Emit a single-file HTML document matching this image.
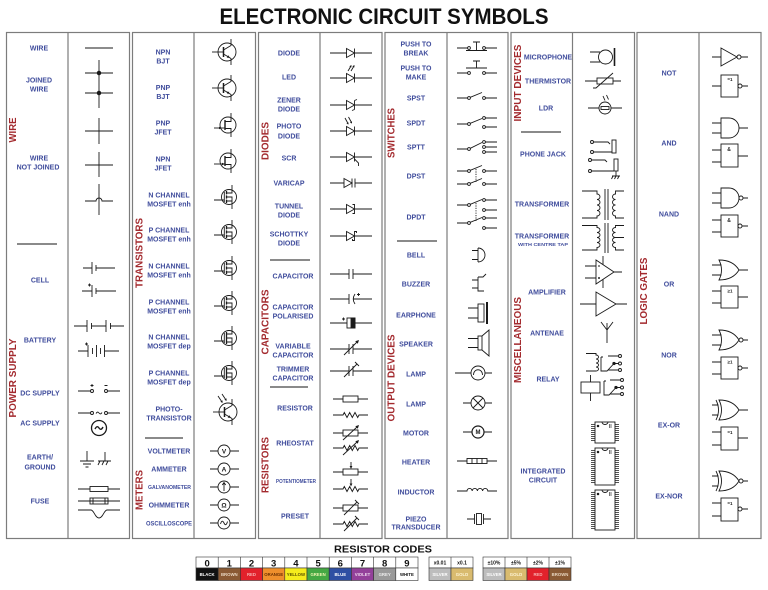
<!DOCTYPE html>
<html><head><meta charset="utf-8">
<style>
html,body{margin:0;padding:0;background:#fff;width:768px;height:590px;overflow:hidden}
svg{display:block}
.l{font-family:"Liberation Sans",sans-serif;font-weight:bold;font-size:7px;fill:#3f4c9c;text-anchor:middle}
.r{font-family:"Liberation Sans",sans-serif;font-weight:bold;font-size:10px;fill:#a32a2e;text-anchor:middle}
.t{font-family:"Liberation Sans",sans-serif;font-weight:bold;fill:#111;text-anchor:middle}
.c{font-family:"Liberation Sans",sans-serif;font-weight:bold;font-size:4.3px;text-anchor:middle}
</style></head><body>
<svg width="768" height="590" viewBox="0 0 768 590" xmlns="http://www.w3.org/2000/svg">
<defs>
<g id="npn"><circle r="9"/><path d="M-15,0H-3.5"/><path d="M-3.5,-5V5" stroke-width="1.5"/><path d="M-3.5,-2L4,-6.5V-13"/><path d="M-3.5,2L4,6.5V13"/><path d="M3,5.9L-0.3,5.6L1.2,3.2Z" fill="#1a1a1a" stroke="none"/></g>
<g id="pnp"><circle r="9"/><path d="M-15,0H-3.5"/><path d="M-3.5,-5V5" stroke-width="1.5"/><path d="M-3.5,-2L4,-6.5V-13"/><path d="M-3.5,2L4,6.5V13"/><path d="M-0.9,3.6L1,6.3L2.4,3.9Z" fill="#1a1a1a" stroke="none"/></g>
<g id="jfet"><circle r="8"/><path d="M-14,3H-3"/><path d="M-3,-5V5" stroke-width="1.4"/><path d="M-3,-3.5H3V-12"/><path d="M-3,3.5H3V12"/></g>
<g id="mosb"><circle r="7.5"/><path d="M-15,3H-4.7M-4.7,-5V5"/><path d="M-2.5,-4H3V-12M-2.5,4H3V12M-2.5,0H3V4"/></g>
<g id="mose"><use href="#mosb"/><path d="M-2.5,-6V-2.6M-2.5,-1.6V1.6M-2.5,2.6V6" stroke-width="1.3"/></g>
<g id="mosd"><use href="#mosb"/><path d="M-2.5,-6V6" stroke-width="1.3"/></g>
<g id="dio"><path d="M-21,0H21"/><path d="M-4.5,-4.5V4.5L3.5,0Z" fill="#fff"/><path d="M3.5,-4.5V4.5"/></g>
<g id="cap"><path d="M-21,0H-2M2,0H21M-2,-5V5M2,-5V5"/></g>
<g id="res"><path d="M-18,0H17"/><rect x="-8" y="-3" width="15" height="6" fill="#fff"/></g>
<g id="zig"><path d="M-18,0H-8L-6.7,-2.5L-4,2.5L-1.3,-2.5L1.3,2.5L4,-2.5L6.7,2.5L8,0H17"/></g>
<g id="ahd"><path d="M0,0L-3,-1.3L-3,1.3Z" fill="#1a1a1a" stroke="none"/></g>
<g id="orb"><path d="M-2,-10Q3,0 -2,10Q12,10 18,0Q12,-10 -2,-10Z" fill="#fff"/></g>
</defs>

<!-- title -->
<text x="384" y="24" class="t" font-size="22" textLength="329" lengthAdjust="spacingAndGlyphs">ELECTRONIC CIRCUIT SYMBOLS</text>

<!-- panels -->
<g fill="#fff" stroke="#7c7c7c" stroke-width="1.2">
<rect x="6.5" y="32.5" width="123" height="506"/>
<rect x="132.5" y="32.5" width="123" height="506"/>
<rect x="258.5" y="32.5" width="123.5" height="506"/>
<rect x="385" y="32.5" width="123" height="506"/>
<rect x="511" y="32.5" width="123.5" height="506"/>
<rect x="637" y="32.5" width="124" height="506"/>
<path d="M68,32.5V538.5M194,32.5V538.5M320,32.5V538.5M447,32.5V538.5M572.5,32.5V538.5M699,32.5V538.5" fill="none"/>
</g>

<!-- separators -->
<g stroke="#444" stroke-width="1.3">
<path d="M17,244H57M145,438H183M270,260H310M270,387H308M397,241H437M521,132H561"/>
</g>

<!-- red category labels -->
<text class="r" transform="translate(16,130) rotate(-90)" textLength="25" lengthAdjust="spacingAndGlyphs">WIRE</text>
<text class="r" transform="translate(16,378) rotate(-90)" textLength="79" lengthAdjust="spacingAndGlyphs">POWER SUPPLY</text>
<text class="r" transform="translate(142.6,253) rotate(-90)" textLength="70" lengthAdjust="spacingAndGlyphs">TRANSISTORS</text>
<text class="r" transform="translate(142.6,490) rotate(-90)" textLength="40" lengthAdjust="spacingAndGlyphs">METERS</text>
<text class="r" transform="translate(268.6,141) rotate(-90)" textLength="38" lengthAdjust="spacingAndGlyphs">DIODES</text>
<text class="r" transform="translate(268.6,322) rotate(-90)" textLength="65" lengthAdjust="spacingAndGlyphs">CAPACITORS</text>
<text class="r" transform="translate(268.6,465) rotate(-90)" textLength="56" lengthAdjust="spacingAndGlyphs">RESISTORS</text>
<text class="r" transform="translate(394.6,133) rotate(-90)" textLength="50" lengthAdjust="spacingAndGlyphs">SWITCHES</text>
<text class="r" transform="translate(394.6,378) rotate(-90)" textLength="87" lengthAdjust="spacingAndGlyphs">OUTPUT DEVICES</text>
<text class="r" transform="translate(521,83) rotate(-90)" textLength="77" lengthAdjust="spacingAndGlyphs">INPUT DEVICES</text>
<text class="r" transform="translate(521,340) rotate(-90)" textLength="86" lengthAdjust="spacingAndGlyphs">MISCELLANEOUS</text>
<text class="r" transform="translate(647,291) rotate(-90)" textLength="67" lengthAdjust="spacingAndGlyphs">LOGIC GATES</text>

<!-- labels col1 -->
<g class="l">
<text x="39" y="50.5">WIRE</text>
<text x="39" y="82.5">JOINED</text><text x="39" y="91.5">WIRE</text>
<text x="39" y="160.5">WIRE</text><text x="38" y="169.5">NOT JOINED</text>
<text x="40" y="282.5">CELL</text>
<text x="40" y="342.5">BATTERY</text>
<text x="40" y="395.5">DC SUPPLY</text>
<text x="40" y="425.5">AC SUPPLY</text>
<text x="40" y="459.5">EARTH/</text><text x="40" y="469.5">GROUND</text>
<text x="40" y="503.5">FUSE</text>
</g>
<!-- labels col2 -->
<g class="l">
<text x="163" y="54.5">NPN</text><text x="163" y="63.5">BJT</text>
<text x="163" y="90">PNP</text><text x="163" y="99">BJT</text>
<text x="163" y="125.5">PNP</text><text x="163" y="134.5">JFET</text>
<text x="163" y="161.5">NPN</text><text x="163" y="170.5">JFET</text>
<text x="169" y="197.5">N CHANNEL</text><text x="169" y="206.5">MOSFET enh</text>
<text x="169" y="232.5">P CHANNEL</text><text x="169" y="241.5">MOSFET enh</text>
<text x="169" y="268.5">N CHANNEL</text><text x="169" y="277.5">MOSFET enh</text>
<text x="169" y="304.5">P CHANNEL</text><text x="169" y="313.5">MOSFET enh</text>
<text x="169" y="339.5">N CHANNEL</text><text x="169" y="348.5">MOSFET dep</text>
<text x="169" y="375.5">P CHANNEL</text><text x="169" y="384.5">MOSFET dep</text>
<text x="169" y="411.5">PHOTO-</text><text x="169" y="420.5">TRANSISTOR</text>
<text x="169" y="453.5">VOLTMETER</text>
<text x="169" y="471.5">AMMETER</text>
<text x="169.5" y="489" font-size="5.5" textLength="43" lengthAdjust="spacingAndGlyphs">GALVANOMETER</text>
<text x="169" y="507.5">OHMMETER</text>
<text x="169" y="525.5" font-size="6.3" textLength="46" lengthAdjust="spacingAndGlyphs">OSCILLOSCOPE</text>
</g>
<!-- labels col3 -->
<g class="l">
<text x="289" y="55.5">DIODE</text>
<text x="289" y="79.5">LED</text>
<text x="289" y="102.5">ZENER</text><text x="289" y="111.5">DIODE</text>
<text x="289" y="128.5">PHOTO</text><text x="289" y="138.5">DIODE</text>
<text x="289" y="160.5">SCR</text>
<text x="289" y="185.5">VARICAP</text>
<text x="289" y="208.5">TUNNEL</text><text x="289" y="217.5">DIODE</text>
<text x="289" y="236.5">SCHOTTKY</text><text x="289" y="245.5">DIODE</text>
<text x="293" y="278.5">CAPACITOR</text>
<text x="293" y="309.5">CAPACITOR</text><text x="293" y="318.5">POLARISED</text>
<text x="293" y="348.5">VARIABLE</text><text x="293" y="357.5">CAPACITOR</text>
<text x="293" y="371.5">TRIMMER</text><text x="293" y="380.5">CAPACITOR</text>
<text x="295" y="410.5">RESISTOR</text>
<text x="295" y="445.5">RHEOSTAT</text>
<text x="296" y="483" font-size="5" textLength="40" lengthAdjust="spacingAndGlyphs">POTENTIOMETER</text>
<text x="295" y="518.5">PRESET</text>
</g>
<!-- labels col4 -->
<g class="l">
<text x="416" y="46.5">PUSH TO</text><text x="416" y="55.5">BREAK</text>
<text x="416" y="70.5">PUSH TO</text><text x="416" y="79.5">MAKE</text>
<text x="416" y="100.5">SPST</text>
<text x="416" y="125.5">SPDT</text>
<text x="416" y="149.5">SPTT</text>
<text x="416" y="178.5">DPST</text>
<text x="416" y="219.5">DPDT</text>
<text x="416" y="257.5">BELL</text>
<text x="416" y="286.5">BUZZER</text>
<text x="416" y="317.5">EARPHONE</text>
<text x="416" y="346.5">SPEAKER</text>
<text x="416" y="376.5">LAMP</text>
<text x="416" y="406.5">LAMP</text>
<text x="416" y="435.5">MOTOR</text>
<text x="416" y="464.5">HEATER</text>
<text x="416" y="494.5">INDUCTOR</text>
<text x="416" y="521.5">PIEZO</text><text x="416" y="529.5">TRANSDUCER</text>
</g>
<!-- labels col5 -->
<g class="l">
<text x="548" y="59.5">MICROPHONE</text>
<text x="548" y="83.5">THERMISTOR</text>
<text x="546" y="110.5">LDR</text>
<text x="543" y="156.5">PHONE JACK</text>
<text x="542" y="206.5">TRANSFORMER</text>
<text x="542" y="238.5">TRANSFORMER</text>
<text x="543" y="246" font-size="4.5" textLength="50" lengthAdjust="spacingAndGlyphs">WITH CENTRE TAP</text>
<text x="547" y="294.5">AMPLIFIER</text>
<text x="547" y="335.5">ANTENAE</text>
<text x="548" y="381.5">RELAY</text>
<text x="543" y="473.5">INTEGRATED</text><text x="543" y="482.5">CIRCUIT</text>
</g>
<!-- labels col6 -->
<g class="l">
<text x="669" y="75.5">NOT</text>
<text x="669" y="145.5">AND</text>
<text x="669" y="216.5">NAND</text>
<text x="669" y="286.5">OR</text>
<text x="669" y="357.5">NOR</text>
<text x="669" y="427.5">EX-OR</text>
<text x="669" y="498.5">EX-NOR</text>
</g>

<!-- SYMBOLS -->
<g stroke="#1a1a1a" stroke-width="0.9" fill="none">
<!-- col1 wire -->
<path d="M85,48H113"/>
<path d="M99,60V108M85,73H113M85,93H113"/>
<circle cx="99" cy="73" r="1.8" fill="#1a1a1a"/><circle cx="99" cy="93" r="1.8" fill="#1a1a1a"/>
<path d="M99,118V144M99,152V177M99,184V215M85,131H113M85,165H113M85,201H96A3,3 0 0 1 102,201H113"/>
<!-- cells -->
<path d="M83,268H92M92,262V274M96,265V271M96,268H115" />
<path d="M82,291H92M92,285V297M96,288V294M96,291H116M88,285H91M89.5,283.5V286.5"/>
<path d="M74,326H87M87,320V332M91.5,323V329M91.5,326H106M106,320V332M110.5,323V329M110.5,326H124"/>
<path d="M78,351H88M88,345V357M92.5,348V354M96.5,345V357M100.5,348V354M104.5,345V357M104.5,351H119M85,344H88M86.5,342.5V345.5"/>
<!-- DC AC -->
<path d="M78,391H90.5M107.5,391H120M90.5,385.5H93.5M92,384V387M104.5,385.5H107.5"/>
<circle cx="92" cy="391" r="1.5" fill="#fff"/><circle cx="106" cy="391" r="1.5" fill="#fff"/>
<path d="M78,413H90.5M107.5,413H120M96,413.5Q97.5,411 99,413Q100.5,415 102,412.5"/>
<circle cx="92" cy="413" r="1.5" fill="#fff"/><circle cx="106" cy="413" r="1.5" fill="#fff"/>
<circle cx="99" cy="428" r="7.5" stroke-width="1.3"/>
<path d="M95,429Q97,425 99,428Q101,431 103,427" stroke-width="1.4"/>
<!-- earth -->
<path d="M87,451V461M80,461H94M83,464H91M85.5,467H88.5"/>
<path d="M105,452V461M98,461H111M100,461L98,465M104,461L102,465M108,461L106,465"/>
<!-- fuses -->
<path d="M78,489H120"/><rect x="90" y="486.5" width="18" height="5" fill="#fff"/>
<path d="M78,501H120"/><rect x="90" y="498" width="18" height="6" fill="none"/><path d="M93,498V504M105,498V504"/>
<path d="M78,510H91C94,510 95,518 99,518C103,518 104,510 107,510H120"/>

<!-- col2 transistors -->
<use href="#npn" x="227" y="52"/>
<use href="#pnp" x="227" y="88"/>
<use href="#jfet" x="228" y="125"/><path d="M222,128L219,126.7V129.3Z" fill="#1a1a1a" stroke="none"/>
<use href="#jfet" x="228" y="161"/><path d="M225,164L222,162.7V165.3Z" fill="#1a1a1a" stroke="none"/>
<use href="#mose" x="229" y="197"/>
<use href="#mose" x="229" y="232"/>
<use href="#mose" x="229" y="268"/>
<use href="#mose" x="229" y="303"/>
<use href="#mosd" x="229" y="338"/>
<use href="#mosd" x="229" y="373"/>
<use href="#npn" x="228" y="412"/>
<path d="M218,396L222,402M222,394L226,400"/>
<path d="M222.5,403L220.4,401.8L222.6,400.4ZM226.5,401L224.4,399.8L226.6,398.4Z" fill="#1a1a1a" stroke="none"/>
<!-- meters -->
<path d="M210,451H218M230,451H239M210,469H218M230,469H239M210,487H218M230,487H239M210,505H218M230,505H239M210,523H218M230,523H239"/>
<circle cx="224" cy="451" r="6"/><circle cx="224" cy="469" r="6"/><circle cx="224" cy="487" r="6"/><circle cx="224" cy="505" r="6"/><circle cx="224" cy="523" r="6"/>
<path d="M224,491V483M222.3,485L224,482.5L225.7,485"/>
<path d="M220.5,524Q222,519 224,523Q226,527 227.5,521.5"/>

<!-- col3 diodes -->
<use href="#dio" x="351" y="53"/>
<use href="#dio" x="351" y="78"/>
<path d="M348,71L351,66M351,71L354,66"/>
<path d="M351.5,65L349.3,66.3L351.3,67.5ZM354.5,65L352.3,66.3L354.3,67.5Z" fill="#1a1a1a" stroke="none"/>
<path d="M330,105H372"/><path d="M346.5,100.5V109.5L354.5,105Z" fill="#fff"/><path d="M354.5,100.5V109.5M354.5,100.5L357,99.5M354.5,109.5L352,110.5"/>
<use href="#dio" x="351" y="131"/>
<path d="M345,118L348,123.5M348.5,117L351.5,122.5"/>
<path d="M348.5,124.5L346.4,123.6L348.5,122.4ZM352,123.5L349.9,122.6L352,121.4Z" fill="#1a1a1a" stroke="none"/>
<use href="#dio" x="351" y="157"/><path d="M354.5,159L358.5,163V166"/>
<path d="M330,183H346M355,183H372"/><path d="M344,178.5V187.5L352,183Z" fill="#fff"/><path d="M352,178.5V187.5M355,178.5V187.5"/>
<path d="M330,209H372"/><path d="M346.5,204.5V213.5L354.5,209Z" fill="#fff"/><path d="M352.5,204.5H354.5V213.5H352.5"/>
<path d="M330,236H372"/><path d="M346.5,231.5V240.5L354.5,236Z" fill="#fff"/><path d="M356.5,233V231.5H354.5V240.5H352.5V239"/>
<!-- caps -->
<use href="#cap" x="351" y="274"/>
<path d="M330,299H349M349,294V304M355,294Q351.5,299 355,304M353,299H372M357,294.5H360M358.5,293V296"/>
<path d="M330,323H372"/><rect x="347" y="318" width="8" height="10" fill="#fff"/><rect x="351" y="318" width="4" height="10" fill="#1a1a1a"/><path d="M342,319H345M343.5,317.5V320.5"/>
<use href="#cap" x="351" y="349"/><path d="M344,355L357,342"/><path d="M359,340L355.2,341.2L357.8,343.8Z" fill="#1a1a1a" stroke="none"/>
<use href="#cap" x="351" y="371"/><path d="M344,377L357,364M355,362L359,366"/>
<!-- resistors -->
<use href="#res" x="351" y="399"/>
<use href="#zig" x="351" y="415"/>
<use href="#res" x="351" y="433"/><path d="M343,440L357,427"/><path d="M359,425L355.3,426.2L357.8,428.8Z" fill="#1a1a1a" stroke="none"/>
<use href="#zig" x="351" y="448"/><path d="M343,455L357,442"/><path d="M359,440L355.3,441.2L357.8,443.8Z" fill="#1a1a1a" stroke="none"/>
<use href="#res" x="351" y="472"/><path d="M351,462V467"/><path d="M351,469L349.6,466L352.4,466Z" fill="#1a1a1a" stroke="none"/>
<use href="#zig" x="351" y="489"/><path d="M351,479V484"/><path d="M351,486.5L349.6,483.5L352.4,483.5Z" fill="#1a1a1a" stroke="none"/>
<use href="#res" x="351" y="508"/><path d="M344,515L357,502M355,500L359,504"/>
<use href="#zig" x="351" y="524"/><path d="M344,531L357,518M355,516L359,520"/>

<!-- col4 switches -->
<path d="M457,48H467.6M485.4,48H497M466,50.5H487M476.5,50.5V42M473,42H480"/>
<circle cx="469" cy="48" r="1.4" fill="#fff"/><circle cx="484" cy="48" r="1.4" fill="#fff"/>
<path d="M457,73H467.6M485.4,73H497M466,68H487M476.5,68V61M473,61H480"/>
<circle cx="469" cy="73" r="1.4" fill="#fff"/><circle cx="484" cy="73" r="1.4" fill="#fff"/>
<path d="M457,98H467.6M470.3,97.3L482,92.5M485.4,98H497"/>
<circle cx="469" cy="98" r="1.4" fill="#fff"/><circle cx="484" cy="98" r="1.4" fill="#fff"/>
<path d="M457,124H467.6M470.3,123.3L482,118.5M485.4,118H497M485.4,127H497"/>
<circle cx="469" cy="124" r="1.4" fill="#fff"/><circle cx="484" cy="118" r="1.4" fill="#fff"/><circle cx="484" cy="127" r="1.4" fill="#fff"/>
<path d="M457,149H467.6M470.3,148.3L482,142.5M485.4,142H497M485.4,147H497M485.4,152H497"/>
<circle cx="469" cy="149" r="1.4" fill="#fff"/><circle cx="484" cy="142" r="1.4" fill="#fff"/><circle cx="484" cy="147" r="1.4" fill="#fff"/><circle cx="484" cy="152" r="1.4" fill="#fff"/>
<path d="M457,171H467.6M470.3,170.3L482,165.5M485.4,171H497M457,184H467.6M470.3,183.3L482,178.5M485.4,184H497"/>
<path d="M476,169V182" stroke-dasharray="1.2,1.2"/>
<circle cx="469" cy="171" r="1.4" fill="#fff"/><circle cx="484" cy="171" r="1.4" fill="#fff"/><circle cx="469" cy="184" r="1.4" fill="#fff"/><circle cx="484" cy="184" r="1.4" fill="#fff"/>
<path d="M457,205H467.6M470.3,204.3L482,199.5M485.4,200H497M485.4,210H497M457,223H467.6M470.3,222.3L482,217.5M485.4,218H497M485.4,228H497"/>
<path d="M476,203V221" stroke-dasharray="1.2,1.2"/>
<circle cx="469" cy="205" r="1.4" fill="#fff"/><circle cx="484" cy="200" r="1.4" fill="#fff"/><circle cx="484" cy="210" r="1.4" fill="#fff"/>
<circle cx="469" cy="223" r="1.4" fill="#fff"/><circle cx="484" cy="218" r="1.4" fill="#fff"/><circle cx="484" cy="228" r="1.4" fill="#fff"/>
<!-- output devices -->
<path d="M472,250.5H478M472,259.5H478M478,248V262M478,248A7,7 0 0 1 478,262"/>
<path d="M472,280H478M472,288H478M478,277V291H484M478,277H483L486,274"/>
<path d="M468,308H478M468,318H478"/><rect x="478" y="304" width="6" height="18" fill="#fff"/><path d="M487,302V324" stroke-width="2"/>
<path d="M468,338.5H478M468,347.5H478"/><rect x="478" y="336" width="4" height="14" fill="#fff"/><path d="M482,336L489,330V356L482,350"/>
<path d="M455,373H471M485,373H492"/><circle cx="478" cy="373" r="7"/><path d="M473.5,375C473.5,368 482.5,368 482.5,375"/>
<path d="M463,403H471M485,403H492"/><circle cx="478" cy="403" r="7"/><path d="M473,398L483,408M483,398L473,408"/>
<path d="M463,432H472M484,432H492"/><circle cx="478" cy="432" r="6" stroke-width="1.2"/>
<path d="M457,461H497"/><rect x="467" y="458.5" width="20" height="5" fill="#fff"/><path d="M472,458.5V463.5M477,458.5V463.5M482,458.5V463.5"/>
<path d="M457,491H467A2.6,2.6 0 0 1 472.2,491A2.6,2.6 0 0 1 477.4,491A2.6,2.6 0 0 1 482.6,491A2.6,2.6 0 0 1 487.8,491H497"/>
<path d="M467,519H474.5M474.5,514V524M483.5,514V524M483.5,519H491"/><rect x="476.5" y="513.5" width="5" height="11" fill="#fff"/>

<!-- col5 input devices -->
<path d="M590,52H600M590,62H600"/><circle cx="605.5" cy="57" r="7"/><path d="M614.5,48V66" stroke-width="1.6"/>
<path d="M585,81H597M613,81H621"/><rect x="597" y="78" width="16" height="6" fill="#fff"/><path d="M593,88H596L613,73"/>
<path d="M588,108H599M611,108H622"/><circle cx="605" cy="108" r="6"/><rect x="601" y="106.5" width="8" height="3"/><path d="M603,96L605,100.5M606.5,95L608.5,99.5"/>
<!-- phone jacks -->
<circle cx="592" cy="142" r="1.5" fill="#fff"/><circle cx="592" cy="152" r="1.5" fill="#fff"/>
<path d="M593.5,142H608L610,144M593.5,152H612"/><rect x="612" y="140" width="4" height="13" fill="#fff"/>
<circle cx="590" cy="160" r="1.5" fill="#fff"/><circle cx="590" cy="171" r="1.5" fill="#fff"/>
<path d="M591.5,160H605L607,162M591.5,171H614"/><rect x="614" y="159" width="4" height="12" fill="#fff"/>
<path d="M616,171V176M612,176H620M613,176L611.5,179M616,176L614.5,179M619,176L617.5,179"/>
<!-- transformers -->
<path d="M582,191H597V194A3,2.75 0 0 1 597,199.5A3,2.75 0 0 1 597,205A3,2.75 0 0 1 597,210.5A3,2.75 0 0 1 597,216V218H582"/>
<path d="M605,189V220M608,189V220"/>
<path d="M624,191H615.5V194A3,2.75 0 0 0 615.5,199.5A3,2.75 0 0 0 615.5,205A3,2.75 0 0 0 615.5,210.5A3,2.75 0 0 0 615.5,216V218H624"/>
<path d="M582,225.5H597V227.5A3,2.5 0 0 1 597,232.5A3,2.5 0 0 1 597,237.5A3,2.5 0 0 1 597,242.5A3,2.5 0 0 1 597,247.5V250H582"/>
<path d="M605,223V253M608,223V253"/>
<path d="M624,225.5H615.5V227.5A3,2.5 0 0 0 615.5,232.5A3,2.5 0 0 0 615.5,237.5A3,2.5 0 0 0 615.5,242.5A3,2.5 0 0 0 615.5,247.5V250H624M615.5,237.5H624"/>
<!-- amplifiers -->
<path d="M596,260L596,284L614,272Z" fill="#fff"/><path d="M585,266H596M585,278H596M614,272H622M603,264.7V256M603,279.3V288M598,266H600M598,278H600M599,277V279"/>
<path d="M596,292L596,316L616,304Z" fill="#fff"/><path d="M580,304H596M616,304H627"/>
<!-- antenna -->
<path d="M607,343V330L601,322M607,330L613,322M607,330V323"/>
<!-- relays -->
<path d="M586,353.5H596V355A2.5,2 0 0 1 596,359A2.5,2 0 0 1 596,363A2.5,2 0 0 1 596,367A2.5,2 0 0 1 596,371H586"/>
<path d="M601,357V371H607L614,363.5M601,357H603M614,363.5H618.5M608,356H618.5M608,370H618.5"/>
<circle cx="614" cy="363.5" r="1.2" fill="#1a1a1a"/>
<circle cx="620" cy="356" r="1.5" fill="#fff"/><circle cx="620" cy="363.5" r="1.5" fill="#fff"/><circle cx="620" cy="370" r="1.5" fill="#fff"/>
<rect x="581" y="382" width="19" height="11" fill="#fff"/><path d="M590.5,375V382M590.5,393V401"/>
<path d="M604,381V395H609L616,387.5M604,381H606M616,387.5H620.5M610,380H620.5M610,394H620.5"/>
<circle cx="616" cy="387.5" r="1.2" fill="#1a1a1a"/>
<circle cx="622" cy="380" r="1.5" fill="#fff"/><circle cx="622" cy="387.5" r="1.5" fill="#fff"/><circle cx="622" cy="394" r="1.5" fill="#fff"/>
<!-- ICs -->
<path d="M593,424V442M617,424V442M593,450V484M617,450V484M593,492V529M617,492V529" stroke-width="4" stroke-dasharray="0.8,1.2"/>
<rect x="595" y="422" width="20" height="21" fill="#fff"/>
<rect x="595" y="448" width="20" height="37" fill="#fff"/>
<rect x="595" y="490" width="20" height="40" fill="#fff"/>
<path d="M602,422A3,2.5 0 0 0 608,422M602,448A3,2.5 0 0 0 608,448M602,490A3,2.5 0 0 0 608,490"/>
<path d="M609.5,424V428M611,424V428M609.5,450V454M611,450V454M609.5,492V496M611,492V496" stroke-width="0.6"/>
<circle cx="598" cy="426" r="0.8" fill="#1a1a1a"/><circle cx="598" cy="452" r="0.8" fill="#1a1a1a"/><circle cx="598" cy="494" r="0.8" fill="#1a1a1a"/>

<!-- col6 logic gates -->
<path d="M721,48L721,66L737,57Z" fill="#fff"/><circle cx="739" cy="57" r="2"/><path d="M712,57H721M741,57H748"/>
<rect x="721" y="75" width="17" height="22" fill="#fff"/><circle cx="740" cy="86" r="2"/><path d="M712,86H721M742,86H748"/>
<path d="M721,118H729A10,10 0 0 1 729,138H721Z" fill="#fff"/><path d="M712,123H721M712,133H721M739,128H748"/>
<rect x="721" y="144" width="17" height="23" fill="#fff"/><path d="M712,150H721M712,162H721M738,156H748"/>
<path d="M721,188H729A10,10 0 0 1 729,208H721Z" fill="#fff"/><circle cx="741" cy="198" r="2"/><path d="M712,193H721M712,203H721M743,198H748"/>
<rect x="721" y="215" width="17" height="22" fill="#fff"/><circle cx="740" cy="226" r="2"/><path d="M712,220H721M712,232H721M742,226H748"/>
<use href="#orb" x="721" y="270"/><path d="M712,265H721.5M712,275H721.5M739,270H748"/>
<rect x="721" y="286" width="17" height="22" fill="#fff"/><path d="M712,291H721M712,303H721M738,297H748"/>
<use href="#orb" x="721" y="340"/><circle cx="741" cy="340" r="2"/><path d="M712,335H721.5M712,345H721.5M743,340H748"/>
<rect x="721" y="357" width="17" height="22" fill="#fff"/><circle cx="740" cy="368" r="2"/><path d="M712,362H721M712,374H721M742,368H748"/>
<use href="#orb" x="721" y="410"/><path d="M716,400Q721,410 716,420M712,405H718.5M712,415H718.5M739,410H748"/>
<rect x="721" y="427" width="17" height="23" fill="#fff"/><path d="M712,432H721M712,445H721M738,438H748"/>
<use href="#orb" x="721" y="481"/><circle cx="741" cy="481" r="2"/><path d="M716,471Q721,481 716,491M712,476H718.5M712,486H718.5M743,481H748"/>
<rect x="721" y="498" width="17" height="23" fill="#fff"/><circle cx="740" cy="509" r="2"/><path d="M712,503H721M712,516H721M742,509H748"/>
</g>

<!-- small symbol texts -->
<g font-family="Liberation Sans, sans-serif" font-weight="bold" fill="#1a1a1a" text-anchor="middle">
<text x="224" y="453.3" font-size="6.5">V</text>
<text x="224" y="471.3" font-size="6.5">A</text>
<text x="224" y="507.3" font-size="6.5">Ω</text>
<text x="478" y="434.2" font-size="6">M</text>
<text x="730" y="81" font-size="4.5">=1</text>
<text x="729" y="151" font-size="5">&amp;</text>
<text x="729" y="222" font-size="5">&amp;</text>
<text x="730" y="292.5" font-size="4.5">≥1</text>
<text x="730" y="363.5" font-size="4.5">≥1</text>
<text x="730" y="434" font-size="4.5">=1</text>
<text x="730" y="505" font-size="4.5">=1</text>
</g>

<!-- resistor codes -->
<text x="383" y="552.5" class="t" font-size="10" textLength="98" lengthAdjust="spacingAndGlyphs">RESISTOR CODES</text>
<g stroke="#333" stroke-width="0.6">
<rect x="196" y="557" width="222" height="11" fill="#fff"/>
<rect x="196" y="568" width="22.2" height="12.5" fill="#111"/>
<rect x="218.2" y="568" width="22.2" height="12.5" fill="#8a5a34"/>
<rect x="240.4" y="568" width="22.2" height="12.5" fill="#e2212b"/>
<rect x="262.6" y="568" width="22.2" height="12.5" fill="#ef8f2c"/>
<rect x="284.8" y="568" width="22.2" height="12.5" fill="#f5ec1c"/>
<rect x="307" y="568" width="22.2" height="12.5" fill="#45a843"/>
<rect x="329.2" y="568" width="22.2" height="12.5" fill="#2e4fa3"/>
<rect x="351.4" y="568" width="22.2" height="12.5" fill="#93409a"/>
<rect x="373.6" y="568" width="22.2" height="12.5" fill="#9a9a9a"/>
<rect x="395.8" y="568" width="22.2" height="12.5" fill="#fff"/>
<path d="M218.2,557V568M240.4,557V568M262.6,557V568M284.8,557V568M307,557V568M329.2,557V568M351.4,557V568M373.6,557V568M395.8,557V568" fill="none"/>
<rect x="429" y="557" width="44" height="11" fill="#fff"/>
<path d="M451,557V568" fill="none"/>
<rect x="429" y="568" width="22" height="12.5" fill="#bdbdbd"/>
<rect x="451" y="568" width="22" height="12.5" fill="#d9bb6f"/>
<rect x="483" y="557" width="88" height="11" fill="#fff"/>
<path d="M505,557V568M527,557V568M549,557V568" fill="none"/>
<rect x="483" y="568" width="22" height="12.5" fill="#bdbdbd"/>
<rect x="505" y="568" width="22" height="12.5" fill="#d9bb6f"/>
<rect x="527" y="568" width="22" height="12.5" fill="#e2212b"/>
<rect x="549" y="568" width="22" height="12.5" fill="#8a5a34"/>
</g>
<g class="t" font-size="9.5">
<text x="207.1" y="566.3">0</text><text x="229.3" y="566.3">1</text><text x="251.5" y="566.3">2</text><text x="273.7" y="566.3">3</text><text x="295.9" y="566.3">4</text><text x="318.1" y="566.3">5</text><text x="340.3" y="566.3">6</text><text x="362.5" y="566.3">7</text><text x="384.7" y="566.3">8</text><text x="406.9" y="566.3">9</text>
</g>
<g class="t" font-size="5">
<text x="440" y="564.5">x0.01</text><text x="462" y="564.5">x0.1</text>
<text x="494" y="564.5">±10%</text><text x="516" y="564.5">±5%</text><text x="538" y="564.5">±2%</text><text x="560" y="564.5">±1%</text>
</g>
<g class="c">
<text x="207.1" y="576" fill="#fff">BLACK</text>
<text x="229.3" y="576" fill="#e8d6c0">BROWN</text>
<text x="251.5" y="576" fill="#f7b0b0">RED</text>
<text x="273.7" y="576" fill="#6b2f00">ORANGE</text>
<text x="295.9" y="576" fill="#5a5200">YELLOW</text>
<text x="318.1" y="576" fill="#f0f5b0">GREEN</text>
<text x="340.3" y="576" fill="#fff">BLUE</text>
<text x="362.5" y="576" fill="#f0d8f0">VIOLET</text>
<text x="384.7" y="576" fill="#eee">GREY</text>
<text x="406.9" y="576" fill="#111">WHITE</text>
<text x="440" y="576" fill="#fff">SILVER</text>
<text x="462" y="576" fill="#fff6d8">GOLD</text>
<text x="494" y="576" fill="#fff">SILVER</text>
<text x="516" y="576" fill="#fff6d8">GOLD</text>
<text x="538" y="576" fill="#f7b0b0">RED</text>
<text x="560" y="576" fill="#e8d6c0">BROWN</text>
</g>
</svg>
</body></html>
